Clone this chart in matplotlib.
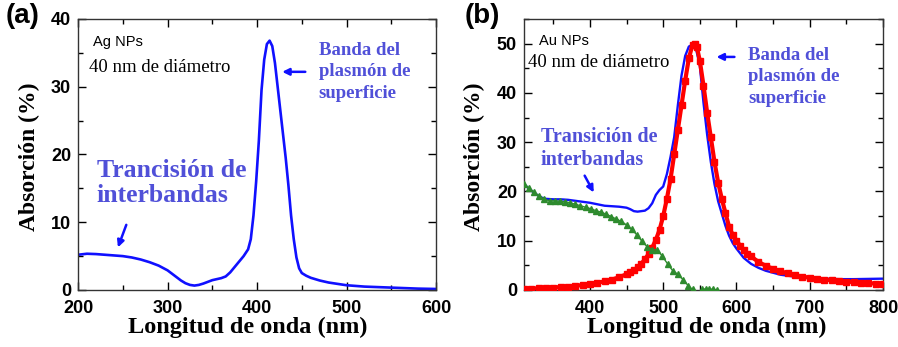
import matplotlib
matplotlib.use("Agg")
import matplotlib.pyplot as plt
from matplotlib.ticker import MultipleLocator

# ---- Panel (a): Ag NPs ----
ag_x = [200, 210, 220, 230, 240, 250, 260, 270, 280, 290, 300, 305, 310, 315, 320,
        325, 330, 335, 340, 345, 350, 355, 360, 365, 370, 375, 380, 385, 390, 393,
        396, 399, 402, 405, 408, 411, 414, 417, 420, 423, 426, 429, 432, 435, 438,
        441, 444, 447, 450, 455, 460, 470, 480, 490, 500, 520, 540, 560, 580, 600]
ag_y = [5.2, 5.35, 5.3, 5.2, 5.1, 5.0, 4.8, 4.5, 4.1, 3.6, 2.9, 2.4, 1.9, 1.4, 1.0,
        0.75, 0.65, 0.75, 0.95, 1.2, 1.45, 1.6, 1.75, 2.0, 2.6, 3.4, 4.2, 5.0, 6.0, 7.5,
        11.0, 16.0, 22.0, 29.5, 34.0, 36.3, 36.8, 36.0, 33.5, 30.0, 26.5, 23.0, 19.5, 15.5, 11.0,
        7.5, 4.8, 3.2, 2.5, 2.1, 1.8, 1.4, 1.1, 0.9, 0.7, 0.5, 0.4, 0.3, 0.2, 0.15]

# ---- Panel (b): Au NPs ----
au_x = [310, 315, 320, 325, 330, 335, 340, 350, 360, 370, 380, 390, 400, 410, 420,
        430, 440, 450, 455, 460, 465, 470, 475, 480, 485, 490, 495, 500, 505, 510,
        515, 520, 525, 530, 535, 540, 545, 550, 555, 560, 565, 570, 575, 580, 585,
        590, 595, 600, 610, 620, 630, 640, 660, 680, 700, 720, 740, 760, 780, 800]
au_y = [21.5, 20.8, 20.2, 19.6, 19.1, 18.7, 18.5, 18.4, 18.4, 18.3, 18.1, 17.9, 17.7, 17.4, 17.1,
        17.0, 16.9, 16.7, 16.4, 16.0, 15.9, 16.0, 16.1, 16.6, 17.6, 19.3, 20.3, 21.0, 23.5, 27.0,
        31.0, 37.5, 43.5, 47.5, 49.4, 49.8, 48.8, 45.5, 38.0, 31.5, 26.0, 21.5, 18.0, 15.5, 13.0,
        11.0, 9.5, 8.4, 6.5, 5.3, 4.5, 3.9, 3.1, 2.7, 2.45, 2.3, 2.2, 2.2, 2.25, 2.3]

fit_x = [310, 320, 330, 340, 350, 360, 370, 380, 390, 400, 410, 420, 430, 440, 450,
         455, 460, 465, 470, 475, 480, 485, 490, 495, 500, 505, 510, 515, 520, 525,
         530, 535, 540, 543, 546, 550, 555, 560, 565, 570, 575, 580, 585, 590, 595,
         600, 605, 610, 615, 620, 630, 640, 650, 660, 670, 680, 690, 700, 710, 720,
         730, 740, 750, 760, 770, 780, 790, 800]
fit_y = [0.25, 0.3, 0.35, 0.4, 0.5, 0.6, 0.7, 0.85, 1.0, 1.2, 1.45, 1.75, 2.1, 2.6, 3.2,
         3.6, 4.0, 4.6, 5.3, 6.2, 7.3, 8.6, 10.2, 12.2, 15.0, 18.5, 22.5, 27.5, 32.5, 37.5,
         42.5, 47.0, 49.8, 50.0, 49.3, 46.5, 41.5, 36.0, 31.0, 26.0, 21.8, 18.5, 15.6, 12.8, 11.2,
         10.0, 9.0, 8.1, 7.4, 6.8, 5.7, 4.9, 4.3, 3.8, 3.4, 3.0, 2.7, 2.5, 2.3, 2.1,
         2.0, 1.85, 1.7, 1.6, 1.5, 1.4, 1.3, 1.25]

inter_x = [310, 317, 324, 331, 338, 345, 352, 359, 366, 373, 380, 387, 394, 401, 408,
           415, 422, 429, 436, 443, 450, 457, 464, 471, 478, 485, 492, 499, 506, 513,
           520, 527, 534, 540]
inter_y = [21.5, 20.6, 19.8, 19.0, 18.4, 18.1, 18.1, 18.0, 17.9, 17.7, 17.4, 17.1, 16.8, 16.5, 16.1,
           15.8, 15.4, 14.9, 14.4, 13.9, 13.2, 12.3, 11.2, 9.9, 8.8, 8.2, 8.2, 6.8, 5.3, 3.9,
           3.2, 2.1, 0.9, 0.1]
inter2_x = [553, 558, 563, 568, 573]
inter2_y = [0.2, 0.2, 0.1, 0.2, 0.0]

BLUE = "#1010ff"
TXT = "#5050d8"
SERIF = "Liberation Serif"
SANS = "Liberation Sans"

fig = plt.figure(figsize=(8.98, 3.47), dpi=100)
axA = fig.add_axes([0.0869, 0.1643, 0.3987, 0.781])
axB = fig.add_axes([0.5835, 0.1643, 0.3998, 0.781])

axA.plot(ag_x, ag_y, color=BLUE, lw=1.9)
axA.set_xlim(200, 600)
axA.set_ylim(0, 40)
axA.xaxis.set_major_locator(MultipleLocator(100))
axA.xaxis.set_minor_locator(MultipleLocator(50))
axA.yaxis.set_major_locator(MultipleLocator(10))
axA.yaxis.set_minor_locator(MultipleLocator(5))

axB.plot(au_x, au_y, color=BLUE, lw=1.7, zorder=2)
axB.plot(fit_x, fit_y, color="#ff0000", lw=3.0, marker="s", ms=4.5, mec="#ff0000", zorder=3)
axB.plot(inter_x, inter_y, color="#2e8b2e", lw=1.0, marker="^", ms=3.8, zorder=4)
axB.plot(inter2_x, inter2_y, color="#2e8b2e", lw=1.0, marker="^", ms=3.8, zorder=4)
axB.set_xlim(310, 800)
axB.set_ylim(0, 55)
axB.xaxis.set_major_locator(MultipleLocator(100))
axB.xaxis.set_minor_locator(MultipleLocator(50))
axB.yaxis.set_major_locator(MultipleLocator(10))
axB.yaxis.set_minor_locator(MultipleLocator(5))

for ax in (axA, axB):
    ax.tick_params(which="both", direction="in", top=True, right=True, width=1.0)
    ax.tick_params(which="major", length=6, labelsize=13)
    ax.tick_params(axis="x", which="major", pad=7.5)
    ax.tick_params(axis="y", which="major", pad=5)
    ax.tick_params(which="minor", length=3.5)
    for lab in ax.get_xticklabels() + ax.get_yticklabels():
        lab.set_family(SANS)
        lab.set_weight("bold")
    for s in ax.spines.values():
        s.set_linewidth(1.0)
        s.set_color("#333333")
    ax.set_xlabel("Longitud de onda (nm)", family=SERIF, weight="bold", fontsize=17.5, va="top")
    ax.set_ylabel("Absorción (%)", family=SERIF, weight="bold", fontsize=17)

axA.yaxis.set_label_coords(-0.106, 0.49)
axB.yaxis.set_label_coords(-0.109, 0.49)
axA.xaxis.set_label_coords(0.475, -0.1)
axB.xaxis.set_label_coords(0.51, -0.1)

# Panel (a) annotations
axA.text(217, 36.6, "Ag NPs", family=SANS, fontsize=10.5, va="center")
axA.text(212, 32.8, "40 nm de diámetro", family=SERIF, fontsize=13.5, va="center")
axA.text(469, 36.6, "Banda del\nplasmón de\nsuperficie", family=SERIF, weight="bold",
         fontsize=13.5, color=TXT, va="top", ha="left", linespacing=1.33)
axA.annotate("", xy=(425, 32.2), xytext=(457, 32.2),
             arrowprops=dict(arrowstyle="-|>", color=BLUE, lw=1.8, mutation_scale=10))
axA.text(221, 19.3, "Trancisión de\ninterbandas", family=SERIF, weight="bold",
         fontsize=18.5, color=TXT, va="top", ha="left", linespacing=1.12)
axA.annotate("", xy=(243.5, 5.9), xytext=(255, 10.0),
             arrowprops=dict(arrowstyle="-|>", color=BLUE, lw=1.8, mutation_scale=10))

# Panel (b) annotations
axB.text(330, 50.5, "Au NPs", family=SANS, fontsize=10.5, va="center")
axB.text(316, 46.2, "40 nm de diámetro", family=SERIF, fontsize=13.5, va="center")
axB.text(616, 49.3, "Banda del\nplasmón de\nsuperficie", family=SERIF, weight="bold",
         fontsize=13.5, color=TXT, va="top", ha="left", linespacing=1.33)
axB.annotate("", xy=(569, 47.3), xytext=(601, 47.3),
             arrowprops=dict(arrowstyle="-|>", color=BLUE, lw=1.8, mutation_scale=10))
axB.text(333, 33.1, "Transición de\ninterbandas", family=SERIF, weight="bold",
         fontsize=14.5, color=TXT, va="top", ha="left", linespacing=1.22)
axB.annotate("", xy=(407, 19.3), xytext=(391, 23.7),
             arrowprops=dict(arrowstyle="-|>", color=BLUE, lw=1.8, mutation_scale=10))

fig.text(0.006, 0.99, "(a)", family=SANS, weight="bold", fontsize=20, va="top", ha="left")
fig.text(0.517, 0.99, "(b)", family=SANS, weight="bold", fontsize=20, va="top", ha="left")

fig.savefig("out.png", dpi=100)
